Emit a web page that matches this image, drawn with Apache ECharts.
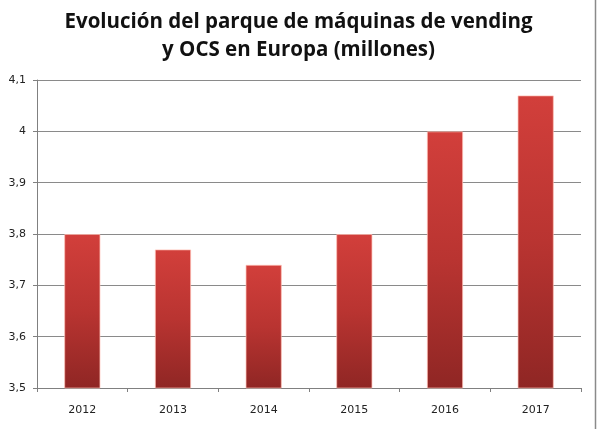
<!DOCTYPE html>
<html>
<head>
<meta charset="utf-8">
<script src="https://cdn.jsdelivr.net/npm/echarts@6/dist/echarts.min.js"></script>
<style>
	html, body { margin: 0; padding: 0; background: #fff; }
	#chart { width: 597px; height: 429px; }
</style>
</head>
<body>
<div id="chart"></div>
<script>
const years = [ '2012', '2013', '2014', '2015', '2016', '2017' ];
const machines = [ 3.8, 3.77, 3.74, 3.8, 4.0, 4.07 ];
const titleLines = [ 'Evolución del parque de máquinas de vending', 'y OCS en Europa (millones)' ];

// comma decimal, like the Spanish original
const formatTick = ( value ) => String( +value.toFixed( 1 ) ).replace( '.', ',' );

const chart = echarts.init( document.getElementById( 'chart' ), null, { renderer: 'canvas' } );

chart.setOption( {
	animation: false,
	title: {
		text: titleLines.join( '\n' ),
		left: 'center',
		top: 3,
		textStyle: {
			fontFamily: 'Open Sans',
			fontWeight: 'bold',
			fontSize: 20.5,
			lineHeight: 28,
			color: '#111'
		}
	},
	grid: { left: 37, right: 16, top: 80, bottom: 41 },
	xAxis: {
		type: 'category',
		data: years,
		axisLine: { lineStyle: { color: '#808080', width: 1 } },
		axisTick: { show: true, length: 4, lineStyle: { color: '#808080' } },
		axisLabel: {
			margin: 17,
			fontFamily: 'DejaVu Sans',
			fontSize: 11,
			color: '#222'
		}
	},
	yAxis: {
		type: 'value',
		min: 3.5,
		max: 4.1,
		interval: 0.1,
		axisLine: { show: true, lineStyle: { color: '#808080', width: 1 } },
		axisTick: { show: true, length: 4, lineStyle: { color: '#808080' } },
		splitLine: { lineStyle: { color: '#8a8a8a', width: 1 } },
		axisLabel: {
			margin: 11,
			fontFamily: 'DejaVu Sans',
			fontSize: 11,
			color: '#222',
			formatter: formatTick
		}
	},
	series: [ {
		type: 'bar',
		data: machines,
		barWidth: '40%',
		itemStyle: {
			color: new echarts.graphic.LinearGradient( 0, 0, 0, 1, [
				{ offset: 0, color: '#d23f3b' },
				{ offset: 0.5, color: '#b93431' },
				{ offset: 1, color: '#8f2624' }
			] ),
			borderColor: 'rgba(255,190,180,0.7)',
			borderWidth: 1
		}
	} ],
	graphic: [ {
		type: 'line',
		shape: { x1: 595.5, y1: 0, x2: 595.5, y2: 429 },
		style: { stroke: '#8a8a8a', lineWidth: 1.5 }
	} ]
} );
</script>
</body>
</html>
